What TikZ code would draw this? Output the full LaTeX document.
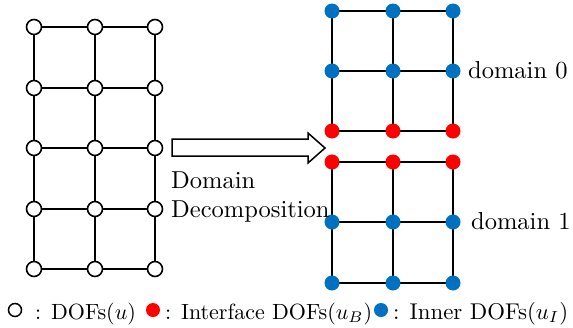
\documentclass[tikz,border=0pt]{standalone}
\definecolor{dofblue}{RGB}{0,112,192}
\definecolor{dofred}{RGB}{255,0,0}
\newcommand\bigtxt[2][2.45]{\scalebox{#1}{\fontsize{10}{12}\selectfont #2}}
\begin{document}
\begin{tikzpicture}[x=1pt,y=-1pt,
  opendof/.style={circle,draw=black,fill=white,line width=1.6pt,minimum size=15pt,inner sep=0pt},
  bdof/.style={circle,fill=dofred,minimum size=15pt,inner sep=0pt},
  idof/.style={circle,fill=dofblue,minimum size=15pt,inner sep=0pt},
  thickline/.style={line width=2.6pt},
  thinline/.style={line width=1.7pt},
  rline/.style={line width=2.1pt},
  lbl/.style={inner sep=0pt,anchor=base west}]
\useasboundingbox (0,0) rectangle (573,327);
% left grid nodes
\foreach \c/\x in {1/34,2/95,3/155}{
  \foreach \r/\y in {1/27,2/88,3/148,4/209,5/269}{
    \coordinate (L\c\r) at (\x,\y);
  }}
% left grid lines
\foreach \r in {1,...,4}{
  \pgfmathtruncatemacro{\n}{\r+1}
  \draw[thickline] (L1\r) -- (L1\n);
  \draw[thinline] (L2\r) -- (L2\n);
  \draw[thickline] (L3\r) -- (L3\n);
}
\foreach \r/\s in {1/thickline,2/thinline,3/thinline,4/thickline,5/thinline}{
  \draw[\s] (L1\r) -- (L2\r) -- (L3\r);
}
\foreach \c in {1,2,3}{\foreach \r in {1,...,5}{\node[opendof] (l\c\r) at (L\c\r) {};}}
% right grids
\foreach \c/\x in {1/332,2/393,3/453}{
  \foreach \r/\y in {1/11,2/71,3/131}{\coordinate (A\c\r) at (\x,\y);}
  \foreach \r/\y in {1/162,2/222,3/283}{\coordinate (B\c\r) at (\x,\y);}
}
\foreach \g in {A,B}{
  \foreach \r in {1,2,3}{\draw[rline] (\g1\r) -- (\g2\r) -- (\g3\r);}
  \foreach \c in {1,2,3}{\draw[rline] (\g\c1) -- (\g\c2) -- (\g\c3);}
}
\foreach \c in {1,2,3}{
  \node[idof] (a\c1) at (A\c1) {};
  \node[idof] (a\c2) at (A\c2) {};
  \node[bdof] (a\c3) at (A\c3) {};
  \node[bdof] (b\c1) at (B\c1) {};
  \node[idof] (b\c2) at (B\c2) {};
  \node[idof] (b\c3) at (B\c3) {};
}
% block arrow
\draw[line width=1.5pt,fill=white,line join=miter]
  (172,139) -- (308,139) -- (308,133) -- (325,148) -- (308,163) -- (308,156) -- (172,156) -- cycle;
\node[lbl] (t1) at (171,188) {\bigtxt{Domain}};
\node[lbl] (t2) at (171,217) {\bigtxt{Decomposition}};
\node[lbl] (d0) at (468,78) {\bigtxt{domain 0}};
\node[lbl] (d1) at (471,229) {\bigtxt{domain 1}};
% legend
\node[circle,draw=black,line width=1.5pt,minimum size=13pt,inner sep=0pt] (k1) at (15,310) {};
\node[lbl] (k1t) at (35,319) {\bigtxt[2.2]{: DOFs($u$)}};
\node[bdof,minimum size=14pt] (k2) at (153,310) {};
\node[lbl] (k2t) at (165,319) {\bigtxt[2.2]{: Interface DOFs($u_B$)}};
\node[idof,minimum size=14pt] (k3) at (381,310) {};
\node[lbl] (k3t) at (393,319) {\bigtxt[2.28]{: Inner DOFs($u_I$)}};
\end{tikzpicture}
\end{document}
